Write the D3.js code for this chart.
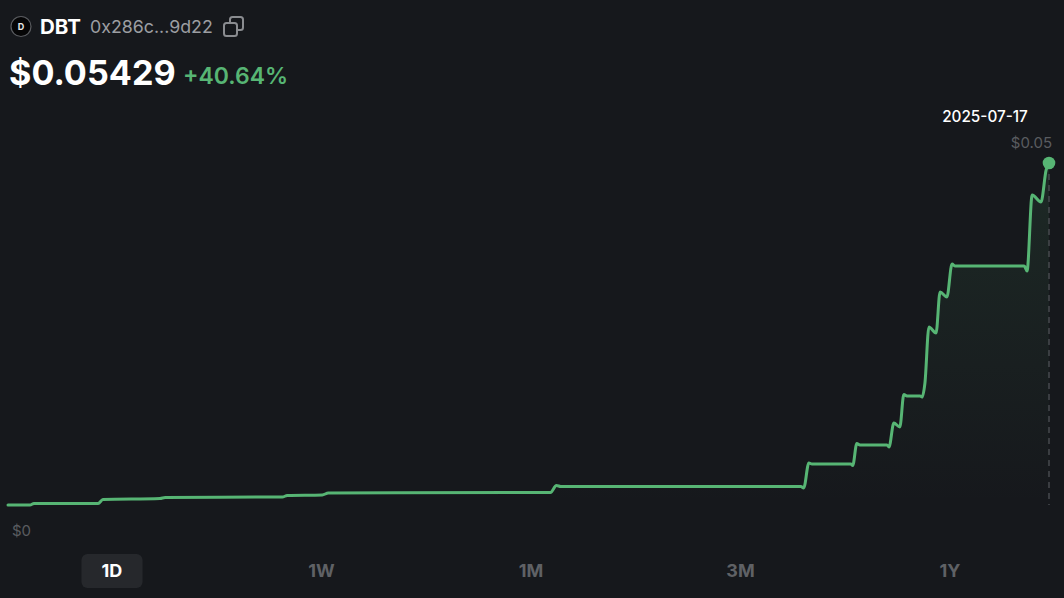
<!DOCTYPE html>
<html>
<head>
<meta charset="utf-8">
<script src="https://cdn.jsdelivr.net/npm/d3@7"></script>
<style>
  html, body { margin: 0; padding: 0; background: #16181c; }
  svg { display: block; }
  text { font-family: Inter, "Noto Sans", sans-serif; }
</style>
</head>
<body>
<svg id="chart"></svg>
<script>
// days since 2024-07-17
const days = [0, 7.7, 9.1, 31.6, 33.3, 53.3, 55.1, 96.2, 97.9, 110.2, 112.3, 190.2, 192.3, 193.8, 278, 279, 280.8, 281.9,
  295.5, 296.2, 297.6, 298.7, 308.2, 308.9, 310.6, 312.7, 314.1, 315.2, 319.8, 320.5, 321.5, 322.9, 325.4, 326.8, 329.2, 331, 332,
  356.3, 357.3, 359.1, 362.2, 364, 365];
const prices = [0, 0, 0.00024, 0.00024, 0.00087, 0.00103, 0.00119, 0.00127, 0.00151, 0.00159, 0.0019, 0.00198, 0.00308, 0.00294, 0.00294, 0.0027, 0.00667, 0.00651,
  0.00651, 0.00627, 0.00976, 0.00952, 0.00952, 0.00921, 0.01302, 0.01238, 0.01754, 0.0173, 0.0173, 0.01714, 0.01937, 0.02825, 0.0273, 0.03381, 0.03302, 0.03826, 0.03794,
  0.03794, 0.03714, 0.04921, 0.0481, 0.05318, 0.05429];
const ranges = ['1D', '1W', '1M', '3M', '1Y'];
const activeRange = '1D';

const width = 1064;
const height = 598;
const green = '#57b574';

const data = days.map((d, i) => ({ day: d, price: prices[i] }));

const svg = d3.select('#chart')
    .attr('width', width)
    .attr('height', height);

const xScale = d3.scaleLinear().domain([0, 365]).range([8, 1049]);
const yScale = d3.scaleLinear().domain([0, 0.05429]).range([505, 163]);
const tabScale = d3.scalePoint().domain(ranges).range([112, 950]);

// Gradient under the line
const grad = svg.append('defs').append('linearGradient')
    .attr('id', 'area-fill')
    .attr('x1', 0).attr('x2', 0).attr('y1', 0).attr('y2', 1);
grad.append('stop').attr('offset', '0%').attr('stop-color', green).attr('stop-opacity', 0.11);
grad.append('stop').attr('offset', '100%').attr('stop-color', green).attr('stop-opacity', 0);

const area = d3.area()
    .x(d => xScale(d.day))
    .y0(yScale(0))
    .y1(d => yScale(d.price))
    .curve(d3.curveMonotoneX);

const line = d3.line()
    .x(d => xScale(d.day))
    .y(d => yScale(d.price))
    .curve(d3.curveMonotoneX);

svg.append('path')
    .datum(data)
    .attr('d', area)
    .attr('fill', 'url(#area-fill)');

// Dashed marker at the last point
const last = data[data.length - 1];
svg.append('line')
    .attr('x1', xScale(last.day)).attr('x2', xScale(last.day))
    .attr('y1', yScale(last.price)).attr('y2', yScale(0))
    .attr('stroke', '#44474b')
    .attr('stroke-width', 1.6)
    .attr('stroke-dasharray', '6 5');

svg.append('path')
    .datum(data)
    .attr('d', line)
    .attr('fill', 'none')
    .attr('stroke', green)
    .attr('stroke-width', 3)
    .attr('stroke-linejoin', 'round')
    .attr('stroke-linecap', 'round');

svg.append('circle')
    .attr('cx', xScale(last.day))
    .attr('cy', yScale(last.price))
    .attr('r', 6.3)
    .attr('fill', green);

// Header
svg.append('circle').attr('cx', 21).attr('cy', 26.5).attr('r', 10).attr('fill', '#050506')
    .attr('stroke', '#5a5c60').attr('stroke-width', 1.2);
svg.append('text').attr('x', 21).attr('y', 30).attr('text-anchor', 'middle')
    .attr('font-size', 9).attr('font-weight', 700).attr('fill', '#e8e8e8').text('D');

svg.append('text').attr('x', 40).attr('y', 34)
    .attr('font-size', 20.5).attr('font-weight', 700).attr('fill', '#ffffff').text('DBT');
svg.append('text').attr('x', 90).attr('y', 32.5)
    .attr('font-size', 17.8).attr('font-weight', 400).attr('fill', '#9c9ea2').text('0x286c...9d22');

// Copy icon
const icon = svg.append('g').attr('fill', '#16181c').attr('stroke', '#8a8c90').attr('stroke-width', 2);
icon.append('rect').attr('x', 230).attr('y', 17).attr('width', 13).attr('height', 13).attr('rx', 2.5);
icon.append('rect').attr('x', 224).attr('y', 23).attr('width', 13).attr('height', 13).attr('rx', 2.5);

svg.append('text').attr('x', 9).attr('y', 85)
    .attr('font-size', 34.2).attr('font-weight', 700).attr('fill', '#ffffff').text('$0.05429');
svg.append('text').attr('x', 183).attr('y', 84)
    .attr('font-size', 23).attr('font-weight', 600).attr('fill', green).text('+40.64%');

// Labels
svg.append('text').attr('x', 985).attr('y', 122).attr('text-anchor', 'middle')
    .attr('font-size', 15.3).attr('font-weight', 500).attr('fill', '#ffffff').text('2025-07-17');
svg.append('text').attr('x', 1052).attr('y', 148).attr('text-anchor', 'end')
    .attr('font-size', 15).attr('fill', '#5a5c60').text('$0.05');
svg.append('text').attr('x', 12).attr('y', 536)
    .attr('font-size', 15).attr('fill', '#5a5c60').text('$0');

// Range buttons
svg.append('rect')
    .attr('x', tabScale(activeRange) - 30.5).attr('y', 554)
    .attr('width', 61).attr('height', 34).attr('rx', 6)
    .attr('fill', '#26282c');

svg.selectAll('.tab')
    .data(ranges)
    .enter()
    .append('text')
    .attr('class', 'tab')
    .attr('x', d => tabScale(d))
    .attr('y', 577)
    .attr('text-anchor', 'middle')
    .attr('font-size', 18)
    .attr('font-weight', 700)
    .attr('fill', d => d === activeRange ? '#ffffff' : '#5f6165')
    .text(d => d);
</script>
</body>
</html>
